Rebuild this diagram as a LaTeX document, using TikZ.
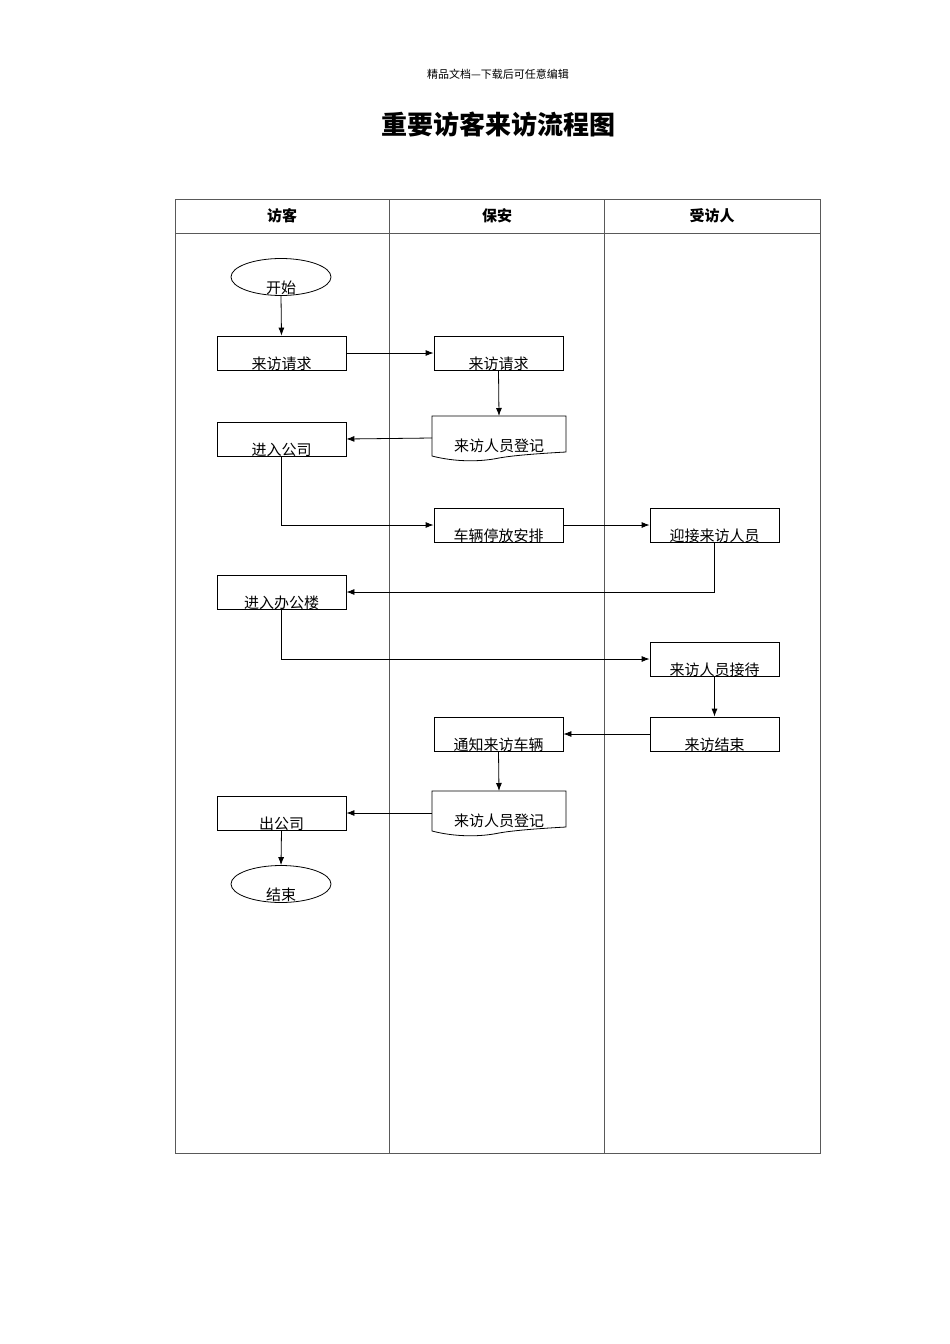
\documentclass[tikz,border=0pt]{standalone}
\usepackage{fontspec}
\setmainfont{Noto Sans CJK SC}
\usetikzlibrary{arrows.meta,shapes.geometric}
\begin{document}
\begin{tikzpicture}[x=1pt,y=-1pt,
  box/.style={draw,thick,minimum width=129pt,minimum height=34pt,inner sep=0pt,font=\fontsize{15}{16}\selectfont},
  oval/.style={draw,thick,ellipse,minimum width=100pt,minimum height=37pt,inner sep=0pt},
  arr/.style={thick,-{Latex[length=8pt,width=6pt]}},
  lab/.style={font=\fontsize{15}{16}\selectfont}]
\useasboundingbox (0,0) rectangle (950,1344);
\node[font=\fontsize{11}{12}\selectfont] at (498,74) {精品文档---下载后可任意编辑};
\node[font=\bfseries\fontsize{26}{28}\selectfont] at (498,125) {重要访客来访流程图};
% table
\draw[gray!70!black] (175,199) rectangle (820,1153);
\draw[gray!70!black] (175,233) -- (820,233) (389,199) -- (389,1153) (604,199) -- (604,1153);
\node[font=\bfseries\fontsize{15}{16}\selectfont] at (282,216) {访客};
\node[font=\bfseries\fontsize{15}{16}\selectfont] at (497,216) {保安};
\node[font=\bfseries\fontsize{15}{16}\selectfont] at (712,216) {受访人};
% nodes
\node[oval] (st) at (281,277) {};
\node[lab] at (281,288) {开始};
\node[box] (r1) at (281.5,353) {}; \node[lab] at (281.5,364) {来访请求};
\node[box] (s1) at (498.5,353) {}; \node[lab] at (498.5,364) {来访请求};
\node[box] (r2) at (281.5,439) {}; \node[lab] at (281.5,450) {进入公司};
\node[box] (s3) at (498.5,525) {}; \node[lab] at (498.5,536) {车辆停放安排};
\node[box] (h1) at (714.5,525) {}; \node[lab] at (714.5,536) {迎接来访人员};
\node[box] (r3) at (281.5,592) {}; \node[lab] at (281.5,603) {进入办公楼};
\node[box] (h2) at (714.5,659) {}; \node[lab] at (714.5,670) {来访人员接待};
\node[box] (h3) at (714.5,734) {}; \node[lab] at (714.5,745) {来访结束};
\node[box] (s4) at (498.5,734) {}; \node[lab] at (498.5,745) {通知来访车辆};
\node[box] (r4) at (281.5,813) {}; \node[lab] at (281.5,824) {出公司};
\node[oval] (en) at (281,884) {};
\node[lab] at (281,895) {结束};
% document shapes
\foreach \n/\y in {s2/416, s5/791}{
  \draw[thick] (432,\y) -- (566,\y) -- (566,\y+36)
    .. controls (530,\y+38) and (510,\y+40) .. (499,\y+42)
    .. controls (480,\y+46) and (455,\y+46) .. (432,\y+40) -- cycle;
  \coordinate (\n n) at (499,\y);
  \coordinate (\n w) at (432,\y+22);
  \node[lab] at (499,\y+30) {来访人员登记};
}
% arrows
\draw[arr] (st.south) -- (r1.north);
\draw[arr] (r1.east) -- (s1.west);
\draw[arr] (s1.south) -- (s2n);
\draw[arr] (s2w) -- (r2.east);
\draw[arr] (r2.south) |- (s3.west);
\draw[arr] (s3.east) -- (h1.west);
\draw[arr] (h1.south) |- (r3.east);
\draw[arr] (r3.south) |- (h2.west);
\draw[arr] (h2.south) -- (h3.north);
\draw[arr] (h3.west) -- (s4.east);
\draw[arr] (s4.south) -- (s5n);
\draw[arr] (s5w) -- (r4.east);
\draw[arr] (r4.south) -- (en.north);
\end{tikzpicture}
\end{document}
